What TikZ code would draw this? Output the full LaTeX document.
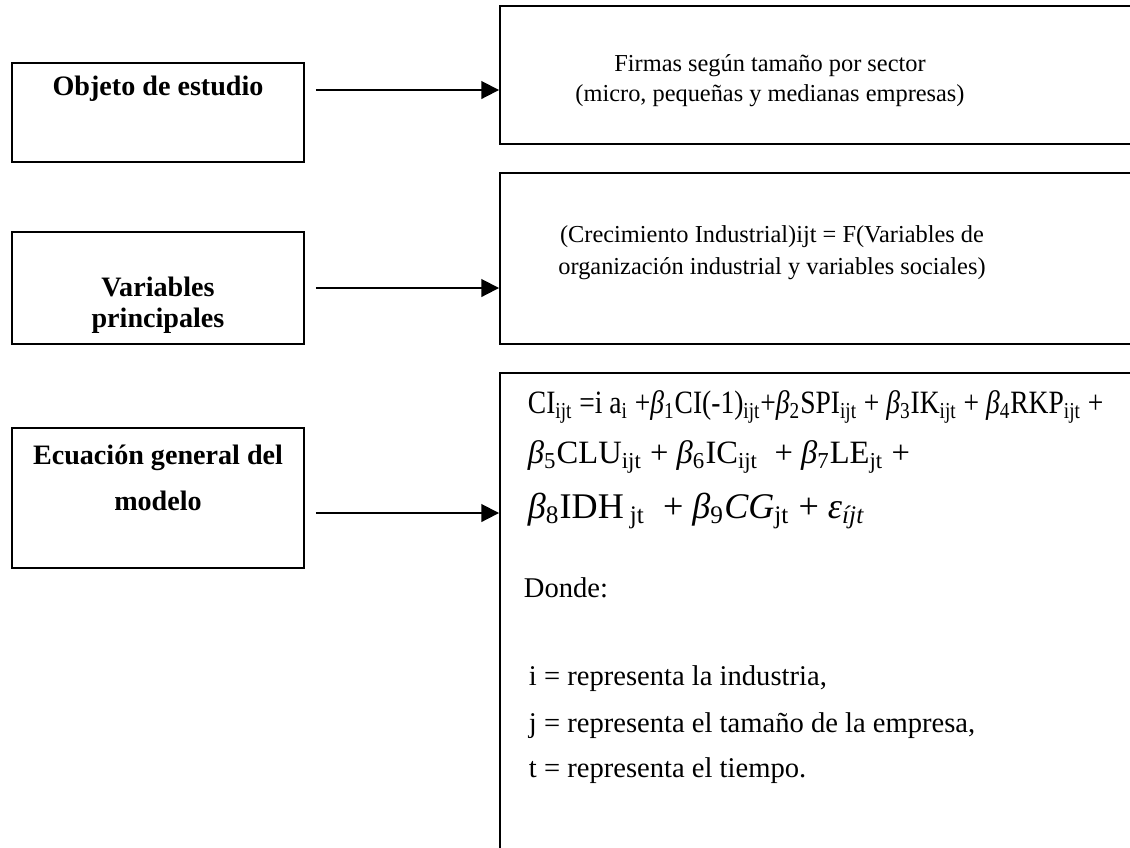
\documentclass[tikz,border=0pt]{standalone}
\usepackage{graphicx}
\usepackage{fontspec}
\setmainfont{Liberation Serif}
\usetikzlibrary{arrows.meta,calc}

\newcommand{\sbx}[1]{\textsubscript{#1}}
\newcommand{\bt}{\textit{β}}

\begin{document}
\begin{tikzpicture}[x=0.015cm,y=-0.015cm,line width=0.8pt,
  caja/.style={draw,inner sep=0pt},
  titulo/.style={font=\fontsize{12}{13.2}\selectfont\bfseries,align=center,inner sep=0pt},
  texto/.style={font=\fontsize{10.4}{13.6}\selectfont,align=center,inner sep=0pt},
  lista/.style={font=\fontsize{12.2}{14}\selectfont,anchor=base west,inner sep=0pt},
  ecuacion/.style={font=\fontsize{13.9}{15}\selectfont,anchor=base west,inner sep=0pt},
  flecha/.style={-{Triangle[length=7.5pt,width=7.5pt]}}]
\useasboundingbox (0,0) rectangle (1130,847);
\clip (0,0) rectangle (1130,847);
% left boxes
\path (158,112.5) node (objeto) [caja,minimum width=4.38cm,minimum height=1.485cm] {};
\path (158,288) node (variables) [caja,minimum width=4.38cm,minimum height=1.68cm] {};
\path (158,498) node (ecuacion) [caja,minimum width=4.38cm,minimum height=2.1cm] {};
\path (158,95) node (tobjeto) [titulo,anchor=base] {Objeto de estudio};
\path (158,305) node (tvariables) [titulo] {Variables\\principales};
\path (158,478) node (tecuacion) [titulo,font=\fontsize{12}{19.6}\selectfont\bfseries] {Ecuación general del\\modelo};
% right boxes
\path (820,75) node (firmas) [caja,minimum width=9.6cm,minimum height=2.07cm] {};
\path (820,258.5) node (modelo) [caja,minimum width=9.6cm,minimum height=2.565cm] {};
\path (820,616.5) node (detalle) [caja,minimum width=9.6cm,minimum height=7.305cm] {};
\path (770,81) node (tfirmas) [texto,font=\fontsize{10.4}{12.8}\selectfont] {Firmas según tamaño por sector\\(micro, pequeñas y medianas empresas)};
\path (772,253) node (tmodelo) [texto] {(Crecimiento Industrial)ijt = F(Variables de\\organización industrial y variables sociales)};
% equation
\path (527,413) node (eq1) [ecuacion] {\resizebox{8.63cm}{\height}{CI\sbx{ijt} =i a\sbx{i} +\bt\sbx{1}CI(-1)\sbx{ijt}+\bt\sbx{2}SPI\sbx{ijt} + \bt\sbx{3}IK\sbx{ijt} + \bt\sbx{4}RKP\sbx{ijt} +}};
\path (527,463) node (eq2) [ecuacion] {\bt\sbx{5}CLU\sbx{ijt} + \bt\sbx{6}IC\sbx{ijt} \ + \bt\sbx{7}LE\sbx{jt} +};
\path (527,518) node (eq3) [ecuacion,font=\fontsize{15.4}{16}\selectfont] {\bt\sbx{8}IDH\,\sbx{jt} \ + \bt\sbx{9}\textit{CG}\sbx{jt} + \textit{ε}\sbx{\textit{íjt}}};
\path (523,597) node (donde) [lista] {Donde:};
\path (528,685) node (li) [lista] {i = representa la industria,};
\path (528,732) node (lj) [lista] {j = representa el tamaño de la empresa,};
\path (528,777) node (lt) [lista] {t = representa el tiempo.};
% arrows
\coordinate (a1) at ($(objeto.east)+(11,-22.5)$);
\coordinate (a2) at ($(variables.east)+(11,0)$);
\coordinate (a3) at ($(ecuacion.east)+(11,15)$);
\draw [flecha] (a1) -- (a1 -| firmas.west);
\draw [flecha] (a2) -- (a2 -| modelo.west);
\draw [flecha] (a3) -- (a3 -| detalle.west);
\end{tikzpicture}
\end{document}
